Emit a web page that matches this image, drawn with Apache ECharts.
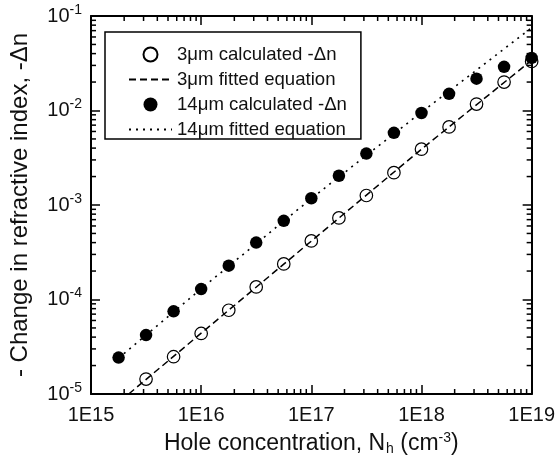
<!DOCTYPE html>
<html>
<head>
<meta charset="utf-8">
<script src="https://cdn.jsdelivr.net/npm/echarts@6/dist/echarts.min.js"></script>
<style>
  html, body { margin: 0; padding: 0; background: #fff; }
  #chart { width: 558px; height: 465px; }
</style>
</head>
<body>
<div id="chart"></div>
<script>
// data
const hole3 = [3.16e15, 5.62e15, 1e16, 1.78e16, 3.16e16, 5.62e16, 1e17, 1.78e17, 3.16e17, 5.62e17, 1e18, 1.78e18, 3.16e18, 5.62e18, 1e19]
const dn3 = [1.44e-5, 2.48e-5, 4.37e-5, 7.7e-5, 1.36e-4, 2.38e-4, 4.17e-4, 7.3e-4, 1.26e-3, 2.2e-3, 3.9e-3, 6.7e-3, 1.17e-2, 2.0e-2, 3.3e-2]
const hole14 = [1.78e15, 3.16e15, 5.62e15, 1e16, 1.78e16, 3.16e16, 5.62e16, 1e17, 1.78e17, 3.16e17, 5.62e17, 1e18, 1.78e18, 3.16e18, 5.62e18, 1e19]
const dn14 = [2.43e-5, 4.2e-5, 7.5e-5, 1.29e-4, 2.28e-4, 4.0e-4, 6.8e-4, 1.18e-3, 2.04e-3, 3.5e-3, 5.8e-3, 9.4e-3, 1.5e-2, 2.17e-2, 2.9e-2, 3.6e-2]
// fitted equation curves
const fit3X = [2.2e15, 1e16, 1e17, 1e18, 1e19]
const fit3Y = [1e-5, 4.4e-5, 4.15e-4, 3.9e-3, 3.4e-2]
const fit14X = [1.78e15, 1e16, 1e17, 1e18, 1e19]
const fit14Y = [2.4e-5, 1.3e-4, 1.17e-3, 9.6e-3, 7.5e-2]

const names = ['3\u03bcm calculated -\u0394n', '3\u03bcm fitted equation', '14\u03bcm calculated -\u0394n', '14\u03bcm fitted equation']

const xMin = 1e15, xMax = 1e19
const yMin = 1e-5, yMax = 1e-1
const font = 'Liberation Sans, Arial, sans-serif'

// minor tick positions (2..9 in each decade)
const xMinor = []
for (let e = 15; e < 19; e++) for (let m = 2; m <= 9; m++) xMinor.push([m * Math.pow(10, e), yMin])
const yMinor = []
for (let e = -5; e < -1; e++) for (let m = 2; m <= 9; m++) yMinor.push([xMin, m * Math.pow(10, e)])

const pair = (xs, ys) => xs.map((x, i) => [x, ys[i]])

const minorLen = 5

const chart = echarts.init(document.getElementById('chart'))

const axisCommon = {
  type: 'log',
  logBase: 10,
  axisLine: {lineStyle: {color: '#000', width: 2}},
  axisTick: {inside: true, length: 9, lineStyle: {color: '#000', width: 1.5}},
  splitLine: {show: false},
  minorTick: {show: false}
}

const option = {
  animation: false,
  textStyle: {fontFamily: font},
  grid: {left: 85, right: 21, top: 16, bottom: 71},
  legend: {
    data: [
      {name: names[0]},
      {name: names[1], itemStyle: {opacity: 0}},
      {name: names[2]},
      {name: names[3], itemStyle: {opacity: 0}}
    ],
    orient: 'vertical',
    left: 105,
    top: 32,
    padding: [13, 14, 0, 23],
    borderColor: '#000',
    borderWidth: 1.5,
    itemWidth: 43,
    itemHeight: 14,
    itemGap: 6,
    selectedMode: false,
    textStyle: {fontSize: 18.6, color: '#111', fontFamily: font}
  },
  xAxis: [
    Object.assign({}, axisCommon, {
      position: 'bottom', min: xMin, max: xMax, interval: 1,
      axisLabel: {
        margin: 11, fontSize: 20, color: '#111', fontFamily: font,
        formatter: v => '1E' + Math.round(Math.log10(v))
      },
      name: '{t|Hole concentration, N}{sub|h}{t| (cm}{sup|-3}{t|)}',
      nameLocation: 'middle',
      nameGap: 37,
      nameTextStyle: {
        rich: {
          t: {fontSize: 23, color: '#111', fontFamily: font},
          sub: {fontSize: 14, color: '#111', fontFamily: font, padding: [11, 0, 0, 1]},
          sup: {fontSize: 14, color: '#111', fontFamily: font, padding: [0, 0, 11, 0]}
        }
      }
    }),
    Object.assign({}, axisCommon, {
      position: 'top', min: xMin, max: xMax, interval: 1,
      axisLabel: {show: false}
    })
  ],
  yAxis: [
    Object.assign({}, axisCommon, {
      position: 'left', min: yMin, max: yMax, interval: 1,
      axisLabel: {
        margin: 9,
        formatter: v => '{b|10}{s|' + Math.round(Math.log10(v)) + '}',
        rich: {
          b: {fontSize: 20, color: '#111', fontFamily: font},
          s: {fontSize: 14, color: '#111', fontFamily: font, padding: [0, 0, 12, 0]}
        }
      },
      name: '- Change in refractive index, -\u0394n',
      nameLocation: 'middle',
      nameGap: 59,
      nameTextStyle: {fontSize: 24, color: '#111', fontFamily: font}
    }),
    Object.assign({}, axisCommon, {
      position: 'right', min: yMin, max: yMax, interval: 1,
      axisLabel: {show: false}
    })
  ],
  series: [
    {
      name: names[0],
      type: 'scatter',
      data: pair(hole3, dn3),
      symbol: 'circle',
      symbolSize: 12.5,
      itemStyle: {color: 'rgba(255,255,255,0)', borderColor: '#000', borderWidth: 1.2, opacity: 1},
      emphasis: {disabled: true},
      z: 3
    },
    {
      name: names[1],
      type: 'line',
      data: pair(fit3X, fit3Y),
      symbol: 'none',
      lineStyle: {color: '#000', width: 1.5, type: [7, 4]},
      itemStyle: {color: '#000'},
      emphasis: {disabled: true},
      z: 4
    },
    {
      name: names[2],
      type: 'scatter',
      data: pair(hole14, dn14),
      symbol: 'circle',
      symbolSize: 12.5,
      itemStyle: {color: '#000', opacity: 1},
      emphasis: {disabled: true},
      z: 3
    },
    {
      name: names[3],
      type: 'line',
      data: pair(fit14X, fit14Y),
      symbol: 'none',
      lineStyle: {color: '#000', width: 1.6, type: [2, 5]},
      itemStyle: {color: '#000'},
      emphasis: {disabled: true},
      z: 4
    },
    {
      // x minor ticks, bottom and top
      type: 'custom',
      silent: true,
      clip: false,
      data: xMinor,
      renderItem: (params, api) => {
        const v = api.value(0)
        const b = api.coord([v, yMin])
        const t = api.coord([v, yMax])
        return {
          type: 'group',
          children: [
            {type: 'line', shape: {x1: b[0], y1: b[1], x2: b[0], y2: b[1] - minorLen}, style: {stroke: '#000', lineWidth: 1.5}},
            {type: 'line', shape: {x1: t[0], y1: t[1], x2: t[0], y2: t[1] + minorLen}, style: {stroke: '#000', lineWidth: 1.5}}
          ]
        }
      },
      z: 5
    },
    {
      // y minor ticks, left and right
      type: 'custom',
      silent: true,
      clip: false,
      data: yMinor,
      renderItem: (params, api) => {
        const v = api.value(1)
        const l = api.coord([xMin, v])
        const r = api.coord([xMax, v])
        return {
          type: 'group',
          children: [
            {type: 'line', shape: {x1: l[0], y1: l[1], x2: l[0] + minorLen, y2: l[1]}, style: {stroke: '#000', lineWidth: 1.5}},
            {type: 'line', shape: {x1: r[0], y1: r[1], x2: r[0] - minorLen, y2: r[1]}, style: {stroke: '#000', lineWidth: 1.5}}
          ]
        }
      },
      z: 5
    }
  ]
}

chart.setOption(option)
</script>
</body>
</html>
